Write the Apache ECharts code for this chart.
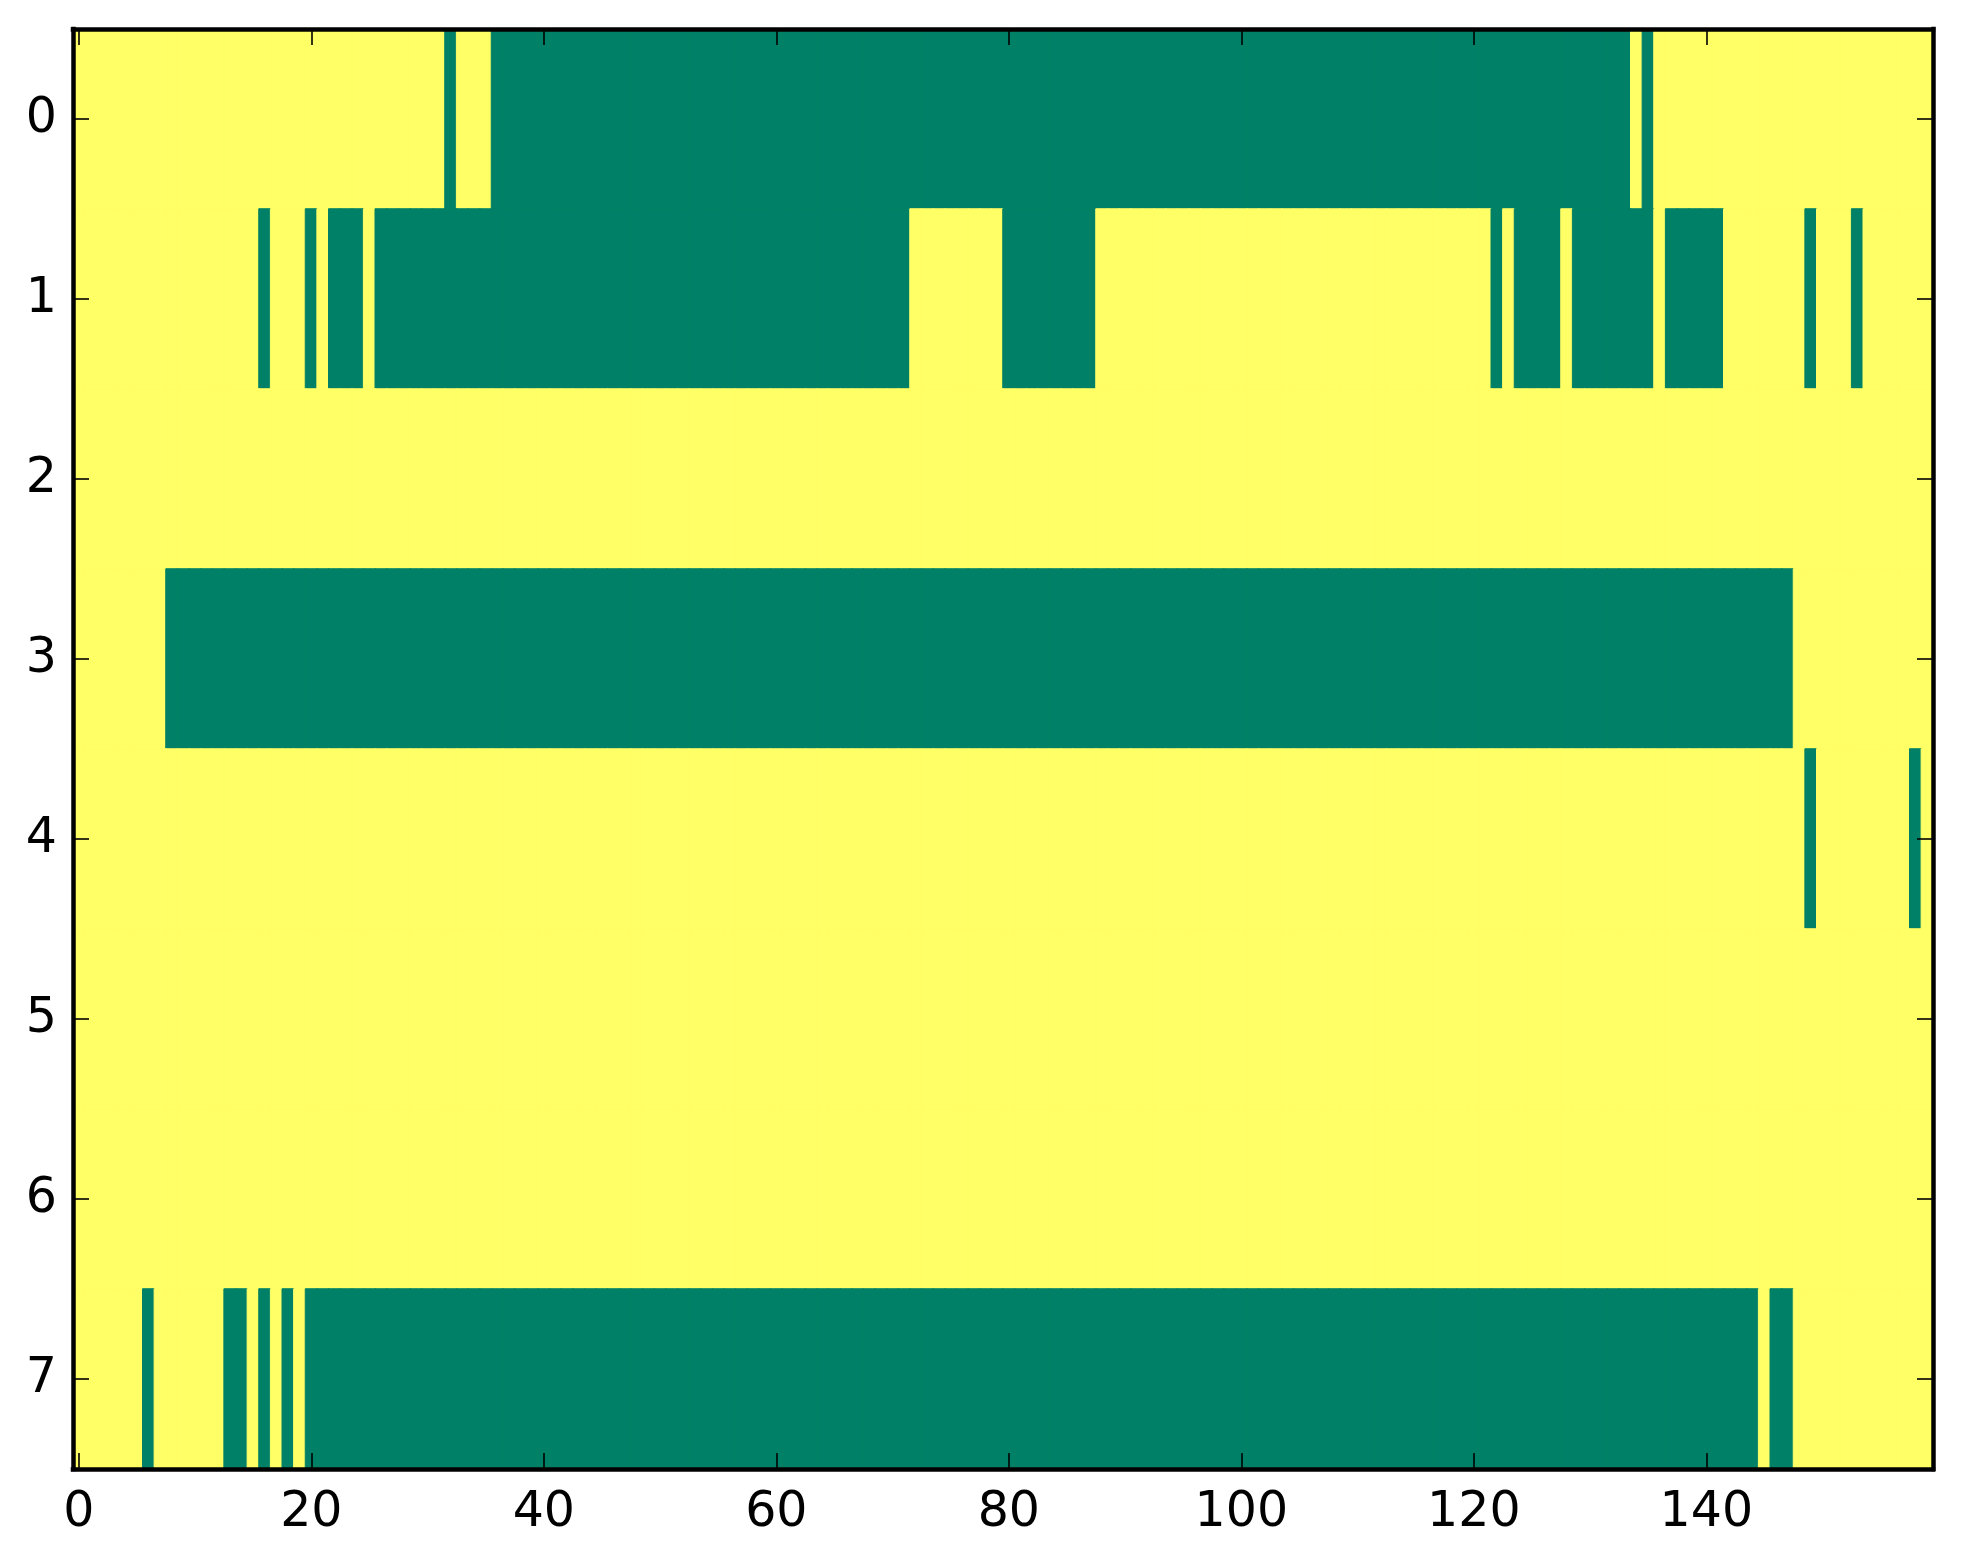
<!DOCTYPE html>
<html>
<head>
<meta charset="utf-8">
<script src="https://cdn.jsdelivr.net/npm/echarts@6/dist/echarts.min.js"></script>
<style>
  html, body { margin: 0; padding: 0; background: #fff; }
  #chart { width: 1963px; height: 1564px; }
</style>
</head>
<body>
<div id="chart"></div>
<script>
// rows of the image, top to bottom
const rowLabels = ['0', '1', '2', '3', '4', '5', '6', '7'];
const columnCount = 160;
const xTickLabels = [0, 20, 40, 60, 80, 100, 120, 140];

// green (value 0) column runs per row, inclusive [from, to]; everything else is yellow (value 1)
const row0Green = [[32, 32], [36, 133], [135, 135]];
const row1Green = [[16, 16], [20, 20], [22, 24], [26, 71], [80, 87], [122, 122], [124, 127], [129, 135], [137, 141], [149, 149], [153, 153]];
const row2Green = [];
const row3Green = [[8, 147]];
const row4Green = [[149, 149], [158, 158]];
const row5Green = [];
const row6Green = [];
const row7Green = [[6, 6], [13, 14], [16, 16], [18, 18], [20, 144], [146, 147]];

const rows = [row0Green, row1Green, row2Green, row3Green, row4Green, row5Green, row6Green, row7Green];
const palette = ['#008066', '#ffff66']; // summer colormap ends

const columns = [];
for (let i = 0; i < columnCount; i++) columns.push(String(i));

const cells = [];
rows.forEach((runs, r) => {
    for (let c = 0; c < columnCount; c++) {
        const v = runs.some(([a, b]) => c >= a && c <= b) ? 0 : 1;
        // border in the same colour hides the hairline seams between cells
        cells.push({ value: [c, r, v], itemStyle: { color: palette[v], borderColor: palette[v], borderWidth: 1 } });
    }
});

const isTick = (index) => xTickLabels.indexOf(index) !== -1;
const font = { fontFamily: 'DejaVu Sans', fontSize: 49, color: '#000' };
const makeLine = () => ({ show: true, onZero: false, lineStyle: { color: '#000', width: 4.5, cap: 'square' } });
const makeTick = () => ({ show: true, inside: true, length: 16, alignWithLabel: true, lineStyle: { color: '#000', width: 1.6 } });

const chart = echarts.init(document.getElementById('chart'));
chart.setOption({
    animation: false,
    backgroundColor: '#fff',
    grid: { left: 73, top: 29, width: 1860, height: 1440, outerBoundsMode: 'none' },
    xAxis: [
        {
            type: 'category', data: columns, position: 'bottom', zlevel: 1, z: 10,
            axisLine: makeLine(),
            axisTick: Object.assign(makeTick(), { interval: isTick }),
            axisLabel: Object.assign({}, font, { margin: 20, interval: isTick }),
            splitLine: { show: false }
        },
        {
            type: 'category', data: columns, position: 'top', zlevel: 1, z: 10,
            axisLine: makeLine(),
            axisTick: Object.assign(makeTick(), { interval: isTick }),
            axisLabel: { show: false },
            splitLine: { show: false }
        }
    ],
    yAxis: [
        {
            type: 'category', data: rowLabels, inverse: true, position: 'left', zlevel: 1, z: 10,
            axisLine: makeLine(),
            axisTick: makeTick(),
            axisLabel: Object.assign({}, font, { margin: 16 }),
            splitLine: { show: false }
        },
        {
            type: 'category', data: rowLabels, inverse: true, position: 'right', zlevel: 1, z: 10,
            axisLine: makeLine(),
            axisTick: makeTick(),
            axisLabel: { show: false },
            splitLine: { show: false }
        }
    ],
    series: [{
        type: 'heatmap',
        xAxisIndex: 0,
        yAxisIndex: 0,
        z: 1,
        data: cells,
        emphasis: { disabled: true },
        progressive: 0
    }]
});
</script>
</body>
</html>
